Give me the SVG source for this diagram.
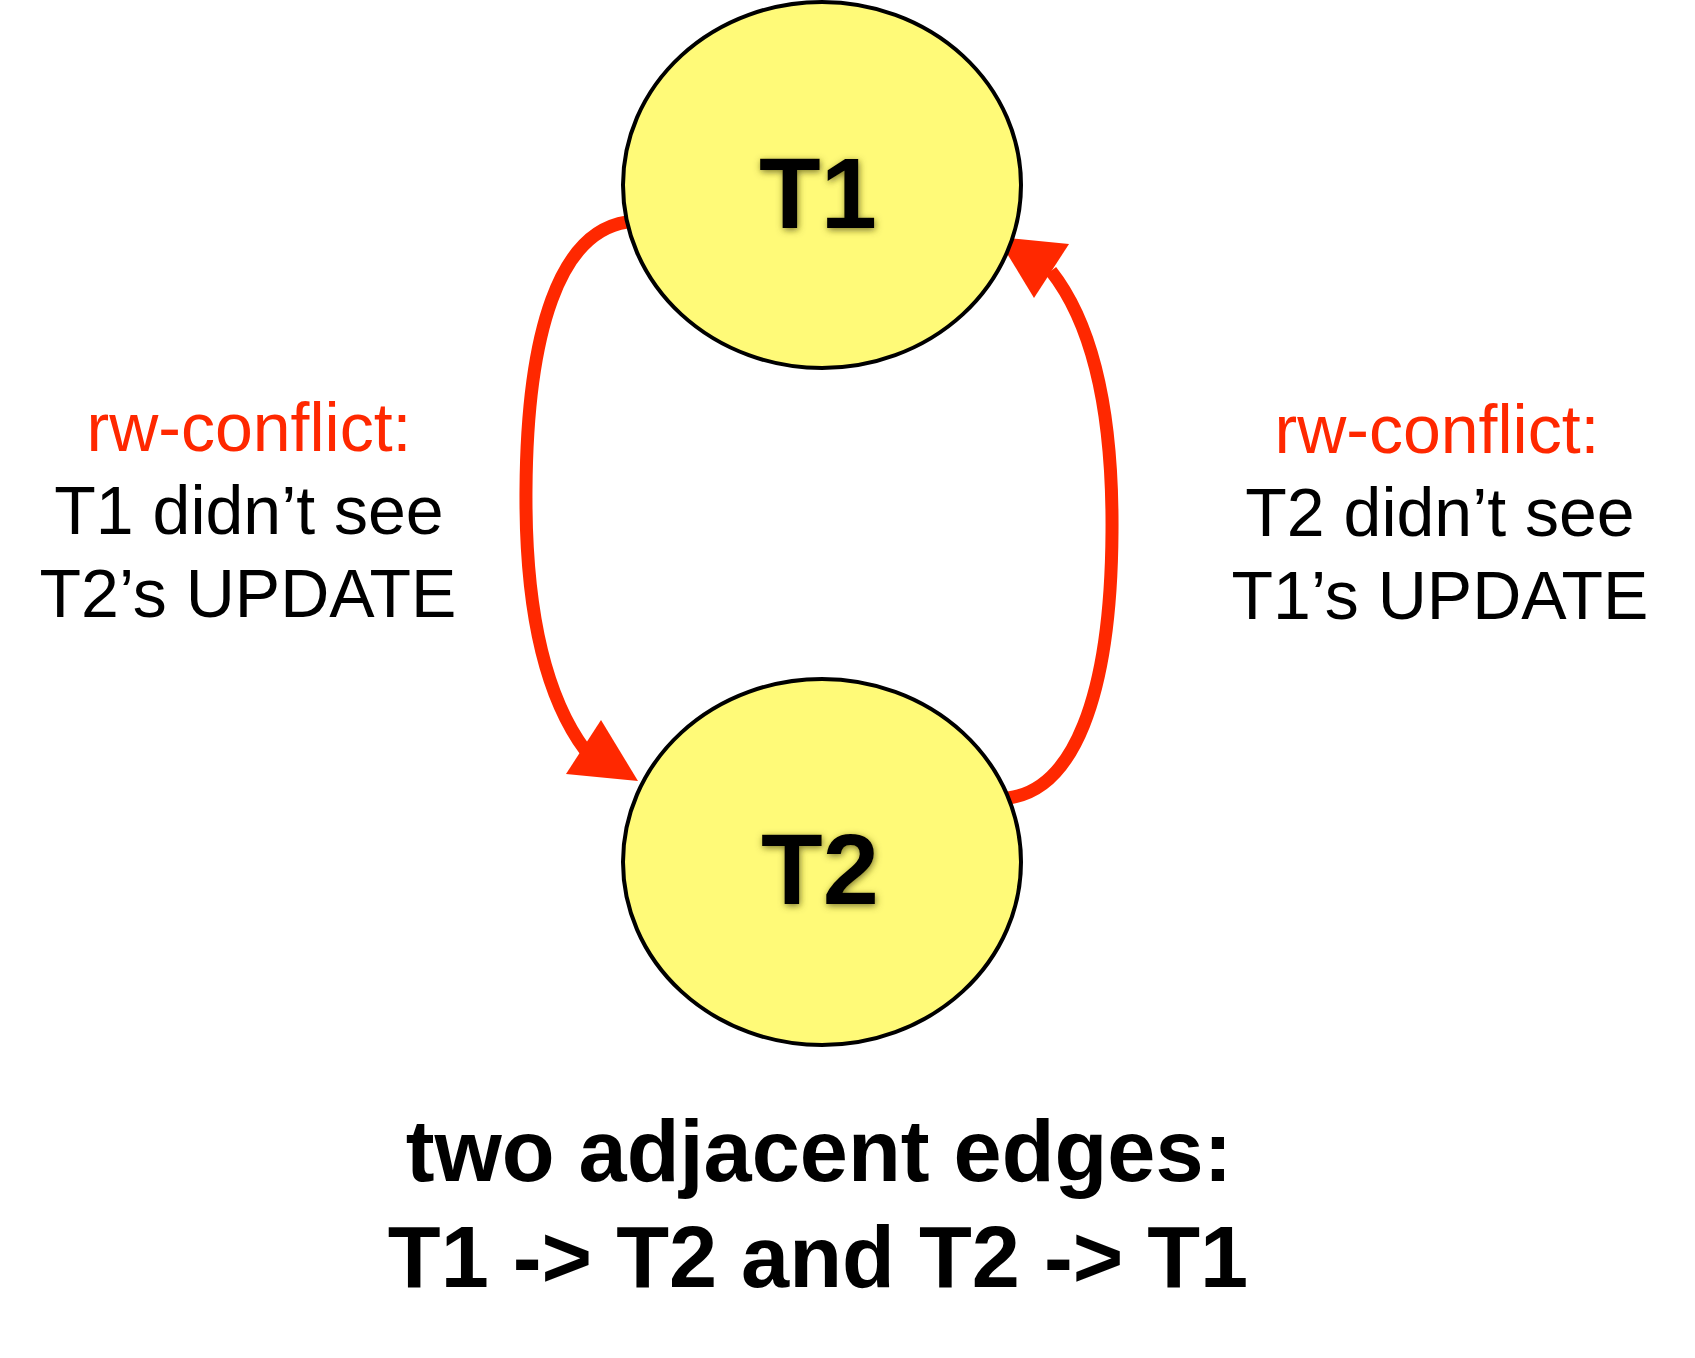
<svg xmlns="http://www.w3.org/2000/svg" width="1695" height="1358" viewBox="0 0 1695 1358">
<defs>
<filter id="shadow" x="-20%" y="-20%" width="140%" height="140%">
<feGaussianBlur in="SourceAlpha" stdDeviation="3.5"/>
<feOffset dx="1" dy="2" result="b"/>
<feFlood flood-color="#5e5a18" flood-opacity="0.8"/>
<feComposite in2="b" operator="in" result="s"/>
<feMerge><feMergeNode in="s"/><feMergeNode in="SourceGraphic"/></feMerge>
</filter>
</defs>
<style>
.node{fill:#fffa78;stroke:#000;stroke-width:4}
.ntext{font-family:"Liberation Sans",Arial,sans-serif;font-weight:bold;font-size:101px;fill:#000;text-anchor:middle}
.edge{fill:none;stroke:#ff2800;stroke-width:13}
.head{fill:#ff2800;stroke:none}
.lbl{font-family:"Liberation Sans",Arial,sans-serif;font-size:68px;text-anchor:middle;fill:#000}
.red{fill:#ff2800}
.cap{font-family:"Liberation Sans",Arial,sans-serif;font-weight:bold;font-size:86.5px;text-anchor:middle;fill:#000}
</style>
<rect width="1695" height="1358" fill="#fff"/>
<g id="connectors">
<path class="edge" d="M627,222 C560,232 527,330 526,490 C525,620 548,700 585,750"/>
<polygon class="head" points="638,781 566,774 601,720"/>
<path class="edge" d="M1008,798 C1072,790 1111,700 1112,532 C1113,400 1088,318 1051,271"/>
<polygon class="head" points="997,237 1069,244 1034,298"/>
</g>
<g id="node-T1">
<ellipse class="node" cx="822" cy="185" rx="199" ry="183"/>
<text class="ntext" x="818" y="228" filter="url(#shadow)">T1</text>
</g>
<g id="node-T2">
<ellipse class="node" cx="822" cy="862" rx="199" ry="183"/>
<text class="ntext" x="820" y="904" filter="url(#shadow)">T2</text>
</g>
<g id="label-left">
<text class="lbl red" x="249" y="451">rw-conflict:</text>
<text class="lbl" x="249" y="534">T1 didn’t see</text>
<text class="lbl" x="248" y="617">T2’s UPDATE</text>
</g>
<g id="label-right">
<text class="lbl red" x="1437" y="453">rw-conflict:</text>
<text class="lbl" x="1440" y="536">T2 didn’t see</text>
<text class="lbl" x="1440" y="619">T1’s UPDATE</text>
</g>
<g id="caption">
<text class="cap" x="819" y="1181">two adjacent edges:</text>
<text class="cap" x="818" y="1287">T1 -&gt; T2 and T2 -&gt; T1</text>
</g>
</svg>
